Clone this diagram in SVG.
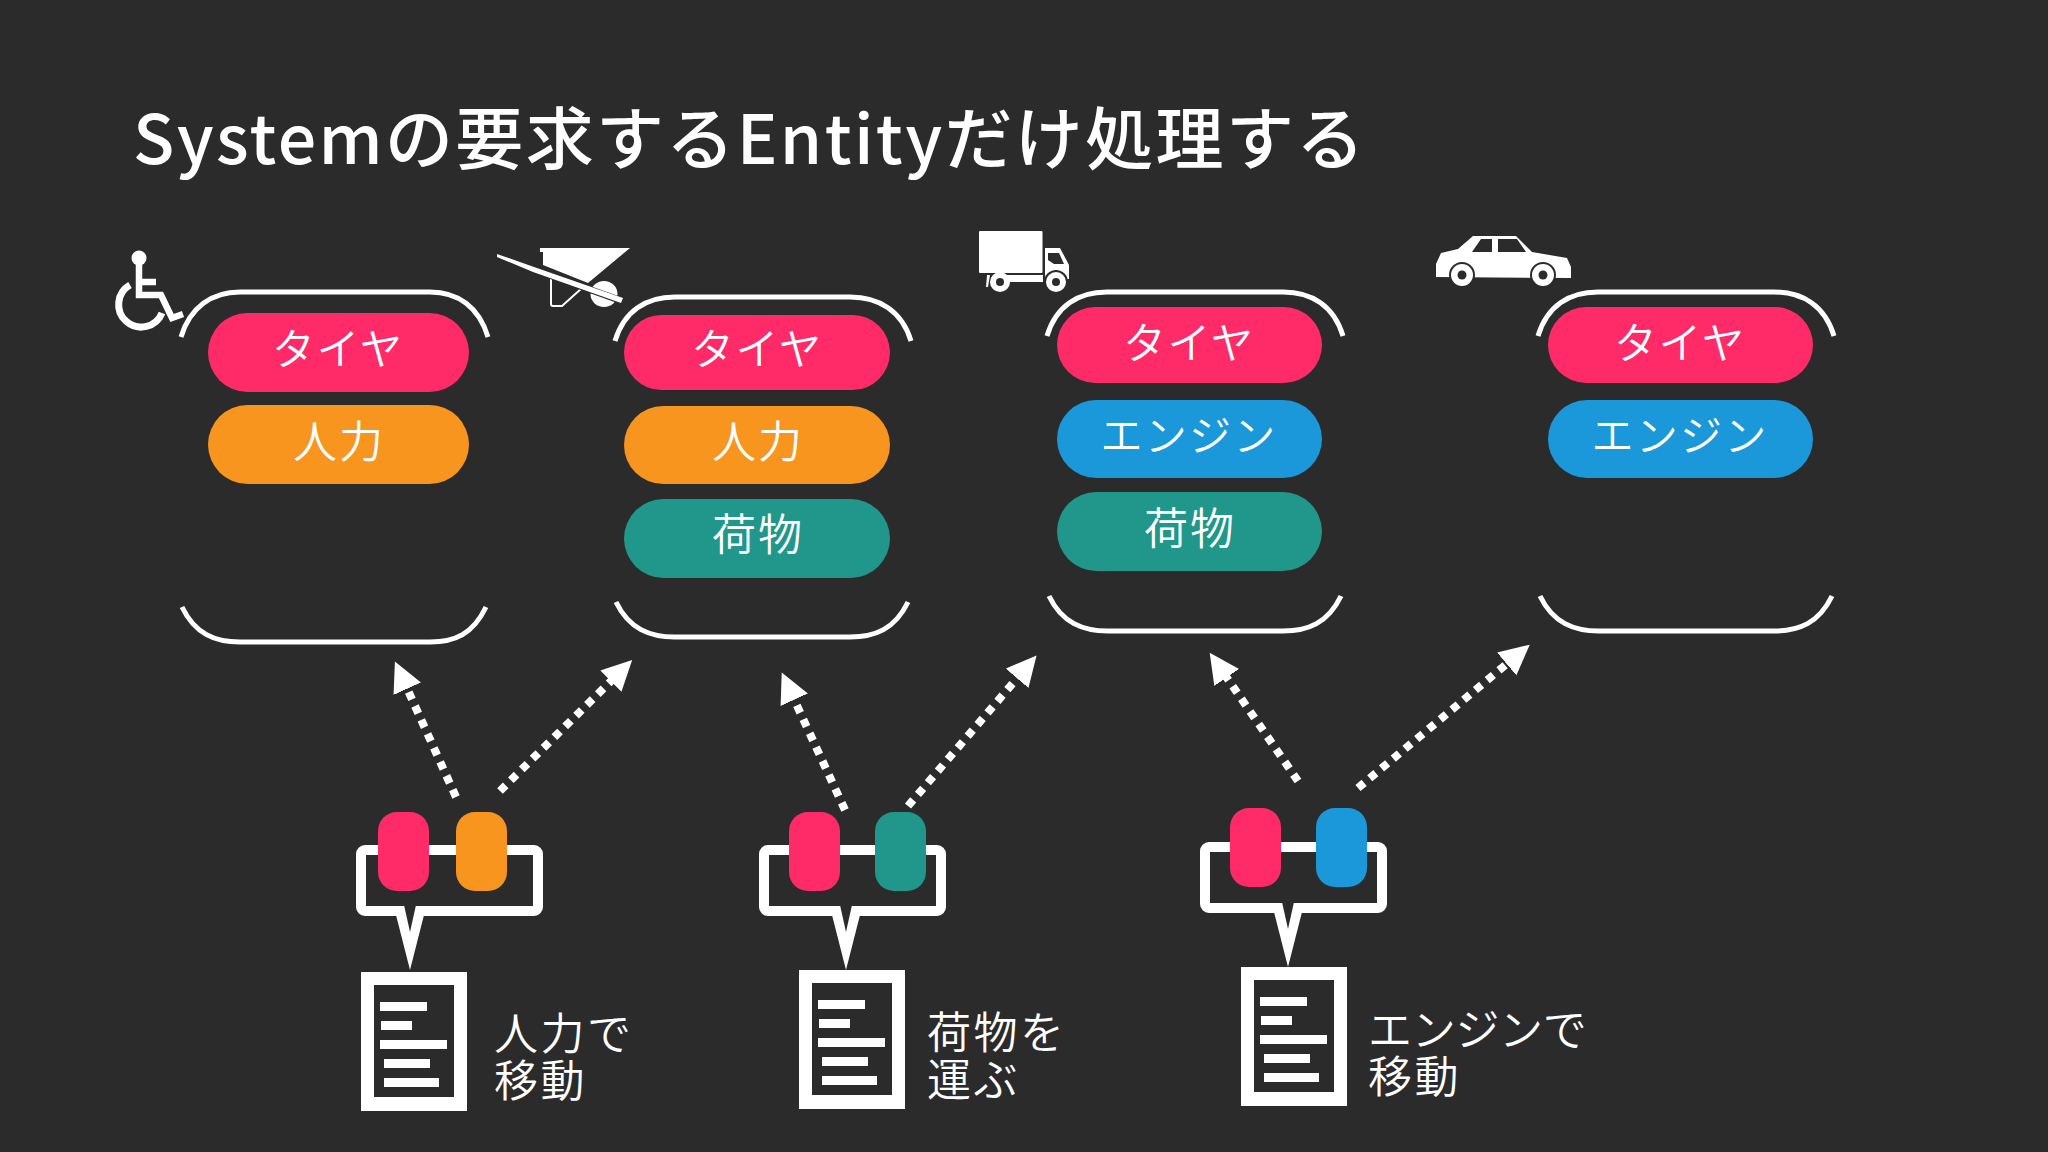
<svg xmlns="http://www.w3.org/2000/svg" width="2048" height="1152" viewBox="0 0 2048 1152">
<style>
text{font-family:"Noto Sans CJK JP","Noto Sans",sans-serif;fill:#fff}
.title{font-size:68px;letter-spacing:2.35px;font-weight:500}
.p{font-size:44px;text-anchor:middle;letter-spacing:2px;font-weight:350}
.k{font-size:43px;letter-spacing:1.500px}
.e{font-size:42px;letter-spacing:2.300px}
.n{font-size:44px;letter-spacing:2.500px;font-weight:350}
.ne{letter-spacing:-.3px}
.br{fill:none;stroke:#fff;stroke-width:5}
.dot{fill:none;stroke:#fff;stroke-width:8;stroke-dasharray:8 7.3;marker-end:url(#ah)}
.pink{fill:#ff2a68}.or{fill:#f8951f}.te{fill:#20978a}.bl{fill:#1b98d9}
.doc{fill:#fff}.in{fill:#2b2b2b}
.w{fill:#fff}.d{fill:#2b2b2b}
</style>
<defs>
<marker id="ah" markerUnits="userSpaceOnUse" markerWidth="34" markerHeight="34" refX="3" refY="15" orient="auto"><path d="M0 0L30 15L0 30Z" fill="#fff"/></marker>
<g id="doc">
<rect class="doc" width="106" height="139"/>
<rect class="in" x="13" y="13" width="80" height="112"/>
<g class="w"><rect x="19" y="30" width="47" height="9"/><rect x="20" y="49" width="31" height="9"/><rect x="19" y="68" width="67" height="9"/><rect x="23" y="87" width="46" height="9"/><rect x="23" y="106" width="55" height="9"/></g>
</g>
<path id="ring" fill="#fff" fill-rule="evenodd" d="M9 0H178a9 9 0 0 1 9 9V62a9 9 0 0 1-9 9H9a9 9 0 0 1-9-9V9a9 9 0 0 1 9-9ZM10 10V61H177V10Z"/>
<g id="tail"><path class="w" d="M-14 70L0 125L14 70Z"/><path class="d" d="M-6 60L0 87L6 60Z"/></g>
</defs>
<rect width="2048" height="1152" fill="#2b2b2b"/>
<text class="title" x="133" y="164">Systemの要求するEntityだけ処理する</text>

<g id="icon-wheelchair">
<circle class="w" cx="139" cy="258" r="7.500"/>
<path d="M139 262V295H161L172 318L183 314M139 282H156" fill="none" stroke="#fff" stroke-width="6.500"/>
<path d="M130 285A22.500 22.500 0 1 0 162 313" fill="none" stroke="#fff" stroke-width="7"/>
</g>
<g id="icon-wheelbarrow">
<path d="M551 278V304Q551 306 553 306H562L582 288" fill="none" stroke="#fff" stroke-width="2"/>
<ellipse class="w" cx="604" cy="294" rx="13.5" ry="13"/>
<path class="w" d="M540 248H630L588 283L543 265V252H540Z"/>
<path d="M497 256L535 270L622 301" fill="none" stroke="#2b2b2b" stroke-width="7"/>
<path class="w" d="M497 254L534 267L623 298L621 303L533 272L497 257Z"/>
</g>
<g id="icon-truck">
<rect class="w" x="979" y="231" width="63.500" height="42" rx="1"/>
<rect class="w" x="1005" y="275" width="38" height="7"/>
<path class="w" d="M1045 248H1060L1069 265V279H1045Z"/>
<path class="d" d="M1048 253H1059L1064 264H1054L1048 260Z"/>
<path class="w" d="M987 275H990L988 287H986Z"/>
<circle class="w" cx="1000" cy="282" r="10"/><circle class="d" cx="1000" cy="282" r="4"/>
<circle class="d" cx="1056" cy="282" r="12"/><circle class="w" cx="1056" cy="282" r="10"/><circle class="d" cx="1056" cy="282" r="4"/>
</g>
<g id="icon-car">
<path class="w" d="M1436 277V264L1441 253L1458 249L1473 236H1516L1532 252L1567 258L1571 267V278Z"/>
<path class="d" d="M1472 252L1481 239H1492V252ZM1498 239H1517L1526 252H1498Z"/>
<circle class="d" cx="1462" cy="275" r="13"/><circle class="w" cx="1462" cy="275" r="11"/><circle class="d" cx="1462" cy="275" r="4.500"/>
<circle class="d" cx="1543" cy="275" r="13"/><circle class="w" cx="1543" cy="275" r="11"/><circle class="d" cx="1543" cy="275" r="4.500"/>
</g>

<g id="set1">
<path class="br" d="M181 337C190 307 212 292 240 292H430C458 292 479 307 488 337"/>
<path class="br" d="M182 607C195 634 215 642 240 642H430C455 642 473 634 486 607"/>
<rect class="pink" x="208" y="313" width="261" height="79" rx="39.500"/><text class="p k" x="338" y="365">タイヤ</text>
<rect class="or" x="208" y="405" width="261" height="79" rx="39.500"/><text class="p" x="339" y="458">人力</text>
</g>
<g id="set2">
<path class="br" d="M615 341C624 311 646 297 675 297H850C879 297 902 311 911 341"/>
<path class="br" d="M616 602C629 629 650 637 675 637H850C875 637 895 629 908 602"/>
<rect class="pink" x="624" y="315" width="266" height="75" rx="37.500"/><text class="p k" x="757" y="365">タイヤ</text>
<rect class="or" x="624" y="406" width="266" height="78" rx="39"/><text class="p" x="758" y="458">人力</text>
<rect class="te" x="624" y="499" width="266" height="79" rx="39.500"/><text class="p" x="758" y="551">荷物</text>
</g>
<g id="set3">
<path class="br" d="M1047 336C1056 306 1078 292 1107 292H1283C1312 292 1334 306 1343 336"/>
<path class="br" d="M1049 596C1062 623 1083 631 1108 631H1283C1308 631 1328 623 1341 596"/>
<rect class="pink" x="1057" y="307" width="265" height="76" rx="38"/><text class="p k" x="1189" y="359">タイヤ</text>
<rect class="bl" x="1057" y="400" width="265" height="78" rx="39"/><text class="p e" x="1189" y="451">エンジン</text>
<rect class="te" x="1057" y="492" width="265" height="79" rx="39.500"/><text class="p" x="1190" y="545">荷物</text>
</g>
<g id="set4">
<path class="br" d="M1538 336C1547 306 1569 292 1598 292H1774C1803 292 1825 306 1834 336"/>
<path class="br" d="M1540 596C1553 623 1574 631 1599 631H1774C1799 631 1819 623 1832 596"/>
<rect class="pink" x="1548" y="307" width="265" height="76" rx="38"/><text class="p k" x="1680" y="359">タイヤ</text>
<rect class="bl" x="1548" y="400" width="265" height="78" rx="39"/><text class="p e" x="1680" y="451">エンジン</text>
</g>

<g id="connectors">
<path class="dot" d="M456 797L406 686"/>
<path class="dot" d="M500 791L613 679"/>
<path class="dot" d="M845 810L793 697"/>
<path class="dot" d="M908 806L1019 676"/>
<path class="dot" d="M1298 781L1225 675"/>
<path class="dot" d="M1358 788L1509 662"/>
</g>

<g id="system1">
<use href="#ring" x="356" y="845"/><use href="#tail" x="410" y="845"/>
<rect class="pink" x="378" y="812" width="51" height="79" rx="19"/>
<rect class="or" x="456" y="812" width="51" height="79" rx="19"/>
<use href="#doc" x="361" y="972"/>
<text class="n"><tspan x="494" y="1050">人力で</tspan><tspan x="494" y="1097">移動</tspan></text>
</g>
<g id="system2">
<use href="#ring" x="759" y="845"/><use href="#tail" x="846" y="845"/>
<rect class="pink" x="789" y="812" width="51" height="79" rx="19"/>
<rect class="te" x="875" y="812" width="51" height="79" rx="19"/>
<use href="#doc" x="799" y="970"/>
<text class="n"><tspan x="927" y="1049">荷物を</tspan><tspan x="927" y="1096">運ぶ</tspan></text>
</g>
<g id="system3">
<use href="#ring" x="1200" y="842"/><use href="#tail" x="1288" y="842"/>
<rect class="pink" x="1230" y="808" width="51" height="79" rx="19"/>
<rect class="bl" x="1316" y="808" width="51" height="79" rx="19"/>
<use href="#doc" x="1241" y="967"/>
<text class="n"><tspan class="ne" x="1368" y="1046">エンジンで</tspan><tspan x="1368" y="1093">移動</tspan></text>
</g>
</svg>
